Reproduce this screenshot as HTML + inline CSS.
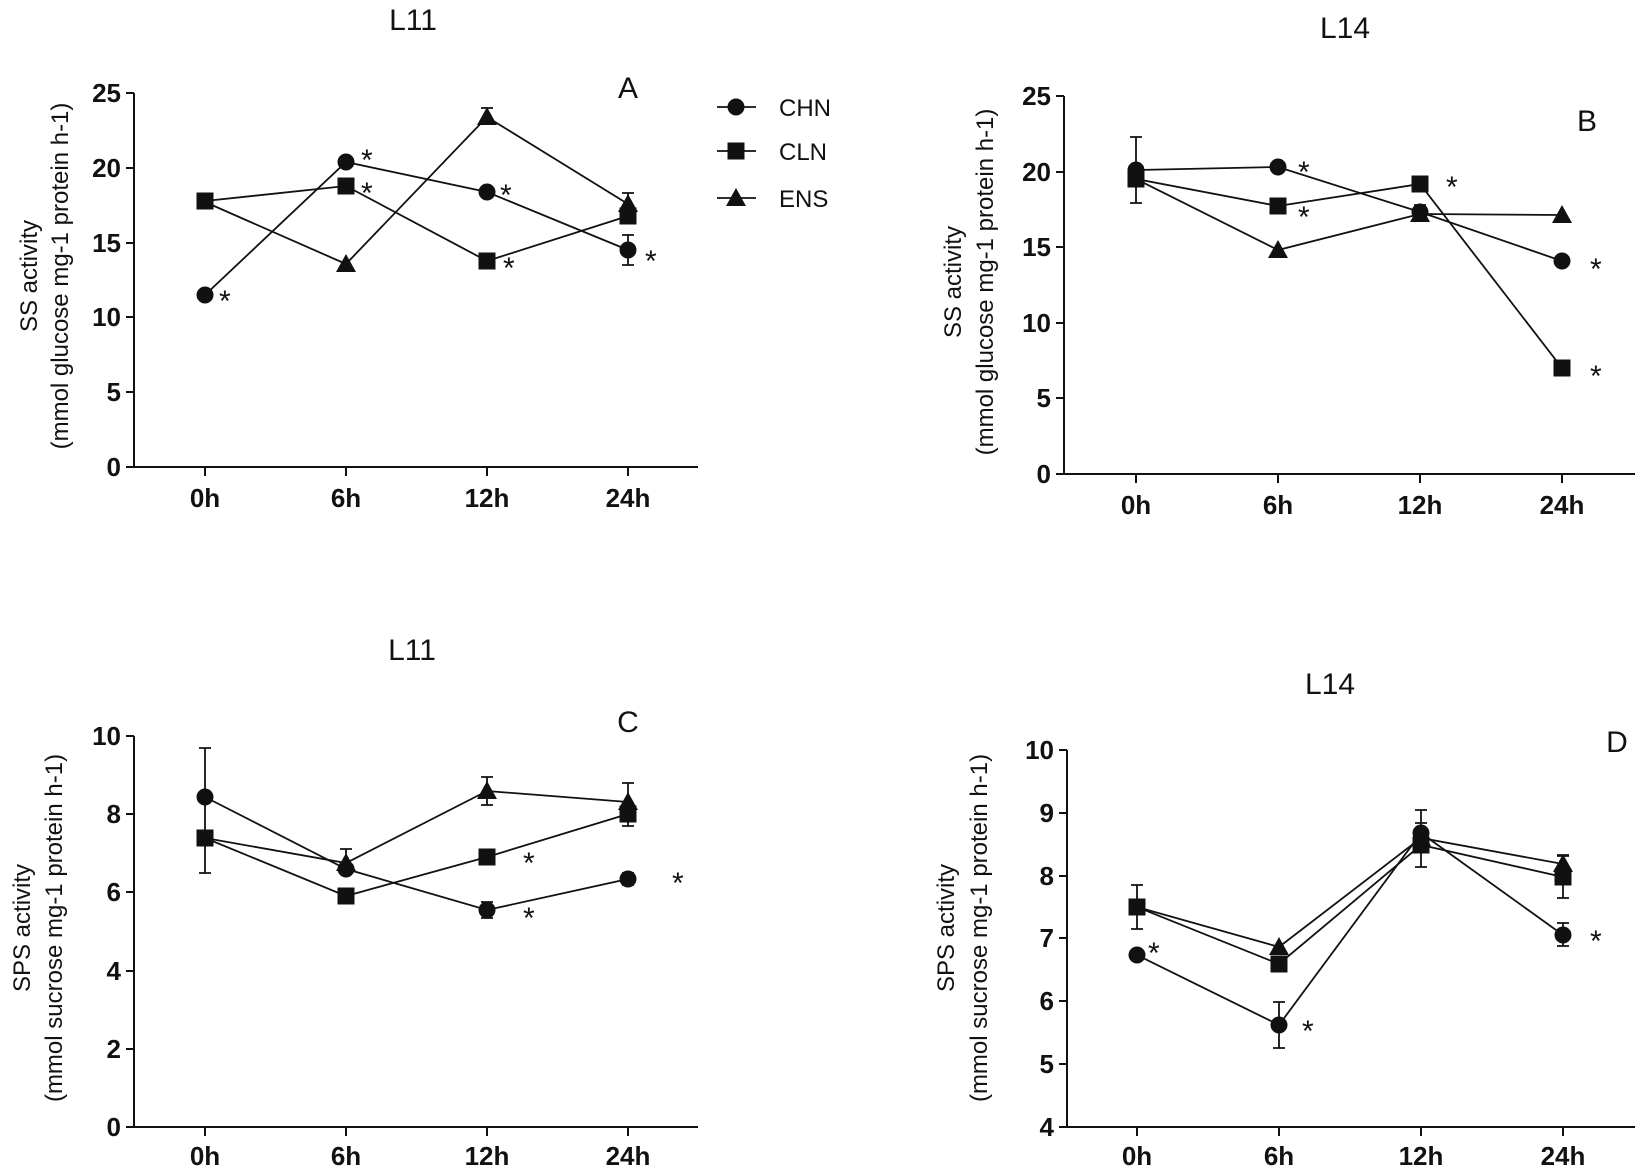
<!DOCTYPE html>
<html><head><meta charset="utf-8"><style>
html,body{margin:0;padding:0;background:#fff}
svg{display:block}
text{font-family:"Liberation Sans",Arial,sans-serif;fill:#111}
.t{font-family:"Liberation Sans Narrow","Liberation Sans",Arial,sans-serif;font-size:26px;font-weight:bold}
.ttl{font-size:30px}
.yl{font-size:24px}
.lg{font-size:24px}
.st{font-size:30px}
</style></head><body>
<svg width="1636" height="1167" viewBox="0 0 1636 1167" xmlns="http://www.w3.org/2000/svg">
<defs>
<circle id="c" r="8.5" fill="#111"/>
<rect id="s" x="-8.5" y="-8.5" width="17" height="17" fill="#111"/>
<polygon id="tr" points="0,-10 10,8 -10,8" fill="#111"/>
</defs>
<g stroke="#111" stroke-width="2" fill="none">
<path d="M134,93 V467 H698"/>
<path d="M126,93H134 M126,168H134 M126,243H134 M126,317H134 M126,392H134 M126,467H134"/>
<path d="M205,467v9 M346,467v9 M487,467v9 M628,467v9"/>
<path d="M1064,96 V474 H1635"/>
<path d="M1056,96H1064 M1056,172H1064 M1056,247H1064 M1056,323H1064 M1056,398H1064 M1056,474H1064"/>
<path d="M1136,474v9 M1278,474v9 M1420,474v9 M1562,474v9"/>
<path d="M134,736 V1127 H698"/>
<path d="M126,736H134 M126,814H134 M126,892H134 M126,971H134 M126,1049H134 M126,1127H134"/>
<path d="M205,1127v9 M346,1127v9 M487,1127v9 M628,1127v9"/>
<path d="M1067,750 V1127 H1635"/>
<path d="M1059,750H1067 M1059,813H1067 M1059,876H1067 M1059,938H1067 M1059,1001H1067 M1059,1064H1067 M1059,1127H1067"/>
<path d="M1137,1127v9 M1279,1127v9 M1421,1127v9 M1563,1127v9"/>
</g>
<g stroke="#111" stroke-width="1.8" fill="none">
<polyline points="205,295 346,162 487,192 628,250"/>
<polyline points="205,201 346,186 487,261 628,216"/>
<polyline points="205,202 346,264 487,117 628,204"/>
<path d="M628,265V235 M622,265h12 M622,235h12 M487,117V108 M481,108h12 M628,204V193 M622,193h12"/>
<polyline points="1136,170 1278,167 1420,212 1562,261"/>
<polyline points="1136,179 1278,206 1420,184 1562,368"/>
<polyline points="1136,179 1278,250 1420,214 1562,215"/>
<path d="M1136,137V203 M1130,137h12 M1130,203h12 M1420,214V205 M1414,205h12"/>
<polyline points="205,797 346,869 487,910 628,879"/>
<polyline points="205,838 346,896 487,857 628,814"/>
<polyline points="205,838 346,863 487,791 628,802"/>
<path d="M205,748V873 M199,748h12 M199,873h12 M346,849V869 M340,849h12 M487,902V918 M481,902h12 M481,918h12 M628,873V885 M622,873h12 M622,885h12 M628,783V826 M622,783h12 M622,826h12 M487,777V805 M481,777h12 M481,805h12"/>
<polyline points="1137,955 1279,1025 1421,833 1563,935"/>
<polyline points="1137,907 1279,964 1421,845 1563,877"/>
<polyline points="1137,907 1279,947 1421,838 1563,864"/>
<path d="M1279,1002V1048 M1273,1002h12 M1273,1048h12 M1563,923V946 M1557,923h12 M1557,946h12 M1137,885V929 M1131,885h12 M1131,929h12 M1421,823V867 M1415,823h12 M1415,867h12 M1563,856V898 M1557,856h12 M1557,898h12 M1421,810V838 M1415,810h12 M1563,855V864 M1557,855h12"/>
<path d="M717,107H756 M717,151H756 M717,198H756"/>
</g>
<use href="#c" x="205" y="295"/><use href="#c" x="346" y="162"/><use href="#c" x="487" y="192"/><use href="#c" x="628" y="250"/>
<use href="#tr" x="346" y="264"/><use href="#tr" x="487" y="117"/><use href="#tr" x="628" y="204"/>
<use href="#s" x="205" y="201"/><use href="#s" x="346" y="186"/><use href="#s" x="487" y="261"/><use href="#s" x="628" y="216"/>
<use href="#tr" x="1278" y="250"/><use href="#tr" x="1420" y="214"/><use href="#tr" x="1562" y="215"/>
<use href="#s" x="1136" y="179"/><use href="#s" x="1278" y="206"/><use href="#s" x="1420" y="184"/><use href="#s" x="1562" y="368"/>
<use href="#c" x="1136" y="170"/><use href="#c" x="1278" y="167"/><use href="#c" x="1420" y="212"/><use href="#c" x="1562" y="261"/>
<use href="#tr" x="346" y="863"/><use href="#tr" x="487" y="791"/><use href="#tr" x="628" y="802"/>
<use href="#s" x="205" y="838"/><use href="#s" x="346" y="896"/><use href="#s" x="487" y="857"/><use href="#s" x="628" y="814"/>
<use href="#c" x="205" y="797"/><use href="#c" x="346" y="869"/><use href="#c" x="487" y="910"/><use href="#c" x="628" y="879"/>
<use href="#tr" x="1279" y="947"/><use href="#tr" x="1421" y="838"/><use href="#tr" x="1563" y="864"/>
<use href="#s" x="1137" y="907"/><use href="#s" x="1279" y="964"/><use href="#s" x="1421" y="845"/><use href="#s" x="1563" y="877"/>
<use href="#c" x="1137" y="955"/><use href="#c" x="1279" y="1025"/><use href="#c" x="1421" y="833"/><use href="#c" x="1563" y="935"/>
<use href="#c" x="736" y="107"/><use href="#s" x="736" y="151"/><use href="#tr" x="736" y="198"/>
<text x="779" y="116" class="lg">CHN</text>
<text x="779" y="160" class="lg">CLN</text>
<text x="779" y="207" class="lg">ENS</text>
<g class="st">
<text x="219" y="311">*</text><text x="361" y="170">*</text><text x="500" y="205">*</text><text x="645" y="271">*</text>
<text x="361" y="203">*</text><text x="503" y="278">*</text>
<text x="1298" y="182">*</text><text x="1298" y="227">*</text><text x="1446" y="197">*</text><text x="1590" y="279">*</text><text x="1590" y="386">*</text>
<text x="523" y="873">*</text><text x="523" y="928">*</text><text x="672" y="893">*</text>
<text x="1148" y="963">*</text><text x="1302" y="1041">*</text><text x="1590" y="951">*</text>
</g>
<text x="413" y="30" class="ttl" text-anchor="middle">L11</text>
<text x="1345" y="38" class="ttl" text-anchor="middle">L14</text>
<text x="412" y="660" class="ttl" text-anchor="middle">L11</text>
<text x="1330" y="694" class="ttl" text-anchor="middle">L14</text>
<text x="628" y="98" class="ttl" text-anchor="middle">A</text>
<text x="1587" y="131" class="ttl" text-anchor="middle">B</text>
<text x="628" y="732" class="ttl" text-anchor="middle">C</text>
<text x="1617" y="752" class="ttl" text-anchor="middle">D</text>
<g class="t" text-anchor="end">
<text x="121" y="102">25</text><text x="121" y="177">20</text><text x="121" y="252">15</text><text x="121" y="326">10</text><text x="121" y="401">5</text><text x="121" y="476">0</text>
<text x="1051" y="105">25</text><text x="1051" y="181">20</text><text x="1051" y="256">15</text><text x="1051" y="332">10</text><text x="1051" y="407">5</text><text x="1051" y="483">0</text>
<text x="121" y="745">10</text><text x="121" y="823">8</text><text x="121" y="901">6</text><text x="121" y="980">4</text><text x="121" y="1058">2</text><text x="121" y="1136">0</text>
<text x="1054" y="759">10</text><text x="1054" y="822">9</text><text x="1054" y="885">8</text><text x="1054" y="947">7</text><text x="1054" y="1010">6</text><text x="1054" y="1073">5</text><text x="1054" y="1136">4</text>
</g>
<g class="t" text-anchor="middle">
<text x="205" y="507">0h</text><text x="346" y="507">6h</text><text x="487" y="507">12h</text><text x="628" y="507">24h</text>
<text x="1136" y="514">0h</text><text x="1278" y="514">6h</text><text x="1420" y="514">12h</text><text x="1562" y="514">24h</text>
<text x="205" y="1165">0h</text><text x="346" y="1165">6h</text><text x="487" y="1165">12h</text><text x="628" y="1165">24h</text>
<text x="1137" y="1165">0h</text><text x="1279" y="1165">6h</text><text x="1421" y="1165">12h</text><text x="1563" y="1165">24h</text>
</g>
<g class="yl" text-anchor="middle">
<text transform="translate(37,276) rotate(-90)">SS activity</text>
<text transform="translate(68,276) rotate(-90)">(mmol glucose mg-1 protein h-1)</text>
<text transform="translate(961,282) rotate(-90)">SS activity</text>
<text transform="translate(993,282) rotate(-90)">(mmol glucose mg-1 protein h-1)</text>
<text transform="translate(30,928) rotate(-90)">SPS activity</text>
<text transform="translate(62,928) rotate(-90)">(mmol sucrose mg-1 protein h-1)</text>
<text transform="translate(954,928) rotate(-90)">SPS activity</text>
<text transform="translate(987,928) rotate(-90)">(mmol sucrose mg-1 protein h-1)</text>
</g>
</svg>
</body></html>
